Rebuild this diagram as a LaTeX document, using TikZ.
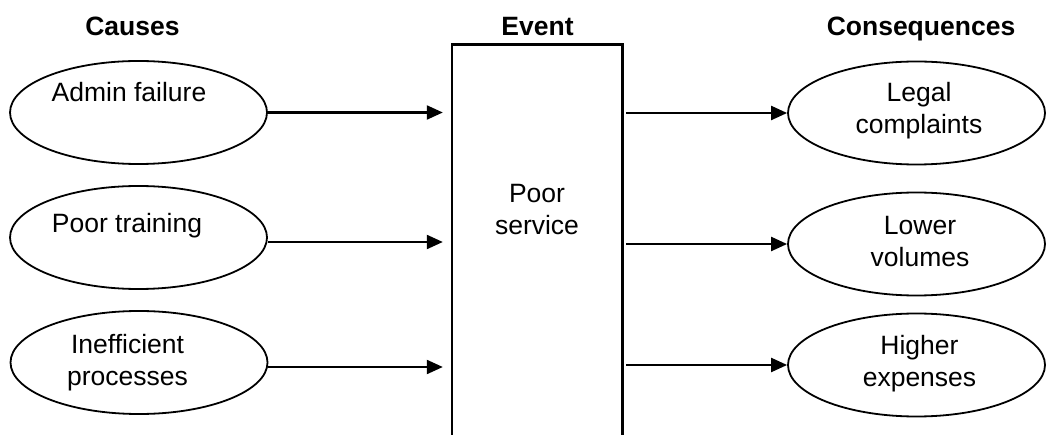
\documentclass[tikz,border=0pt]{standalone}
\usepackage{fontspec}
\setmainfont{Liberation Sans}
\usetikzlibrary{shapes.geometric,arrows.meta}
\tikzset{
  oval/.style={ellipse, draw, line width=1.8pt, inner sep=0pt, minimum width=257pt, minimum height=103pt},
  lbl/.style={anchor=base, align=center, inner sep=0pt, font=\fontsize{26.5}{32}\selectfont},
  ttl/.style={anchor=base, inner sep=0pt, font=\fontsize{26.5}{33}\selectfont\bfseries},
  arr/.style={line width=2.2pt, -{Triangle[length=16pt,width=14pt]}},
  boxline/.style={line width=2.6pt}
}
\begin{document}
\begin{tikzpicture}[x=1pt,y=-1pt]
\useasboundingbox (0,0) rectangle (1046,435);
% titles
\node[ttl] (tc) at (132.5,36) {Causes};
\node[ttl] (te) at (537.5,36) {Event};
\node[ttl] (tq) at (921,36) {Consequences};
% causes
\node[oval] (c1) at (138.5,112.5) {};
\node[oval] (c2) at (138.5,237.5) {};
\node[oval] (c3) at (139,362.5) {};
\node[lbl] (c1t) at (129,102) {Admin failure};
\node[lbl] (c2t) at (127,233) {Poor training};
\node[lbl] (c3t) at (127.5,385) {Inefficient\\processes};
% event box
\node[inner sep=0pt, minimum width=170pt, minimum height=390pt] (ev) at (537,240) {};
\draw[boxline] (ev.south west) -- (ev.north west) -- (ev.north east) -- (ev.south east);
\node[lbl] (evt) at (537,235) {Poor\\service};
% consequences
\node[oval] (r1) at (916.5,113) {};
\node[oval] (r2) at (916.5,244) {};
\node[oval] (r3) at (916.5,365) {};
\node[lbl] (r1t) at (919,134) {Legal\\complaints};
\node[lbl] (r2t) at (920,267) {Lower\\volumes};
\node[lbl] (r3t) at (919.5,386) {Higher\\expenses};
% arrows in
\draw[arr, shorten >=9pt] (c1.east) -- (c1.east -| ev.west);
\draw[arr, shorten >=9pt] ([yshift=-4.5pt]c2.east) -- ([yshift=-4.5pt]c2.east -| ev.west);
\draw[arr, shorten >=9pt] ([yshift=-4.5pt]c3.east) -- ([yshift=-4.5pt]c3.east -| ev.west);
% arrows out
\draw[arr, shorten <=4pt] (r1.west -| ev.east) -- (r1.west);
\draw[arr, shorten <=4pt] (r2.west -| ev.east) -- (r2.west);
\draw[arr, shorten <=4pt] (r3.west -| ev.east) -- (r3.west);
\end{tikzpicture}
\end{document}
